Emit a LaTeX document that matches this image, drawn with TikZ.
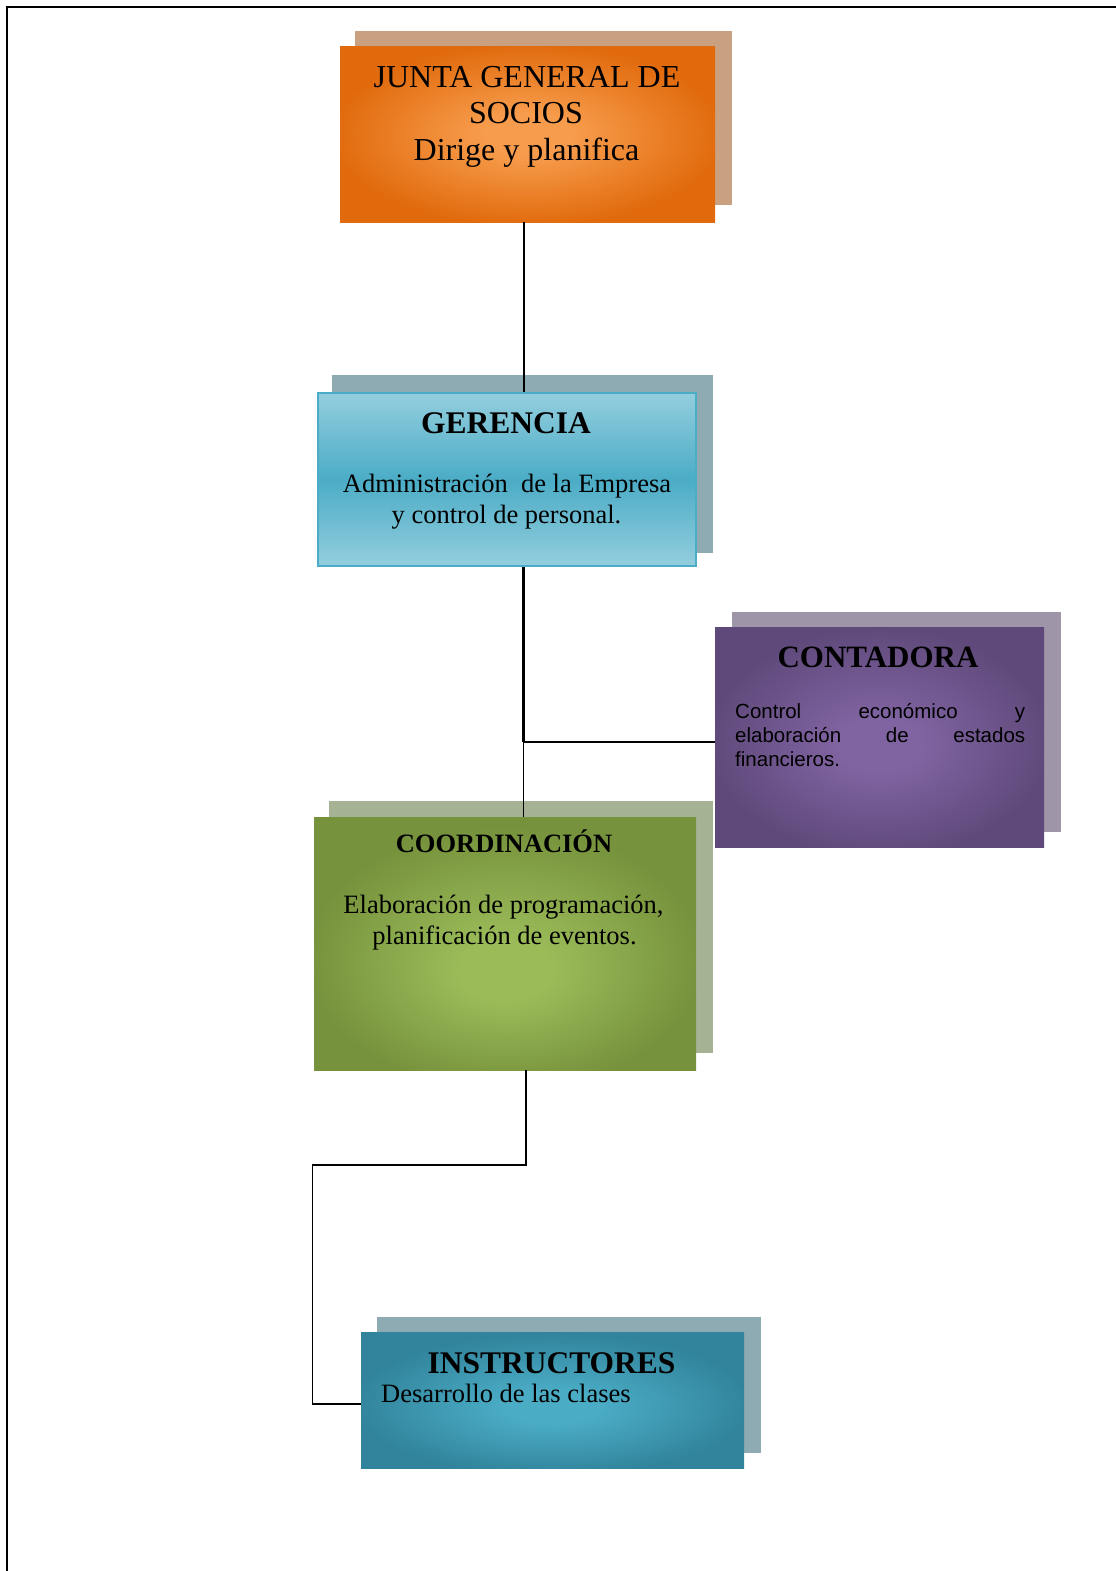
\documentclass[tikz,border=0pt]{standalone}
\usepackage{fontspec}
\setmainfont{Liberation Serif}
\newfontfamily\arialfont{Liberation Sans}

% fill colours (light centre / dark edge) and offset backdrops
\definecolor{juntaL}{RGB}{247,156,76}
\definecolor{juntaD}{RGB}{225,106,12}
\definecolor{juntaS}{RGB}{201,161,129}
\definecolor{gerL}{RGB}{148,206,222}
\definecolor{gerD}{RGB}{75,172,198}
\definecolor{gerS}{RGB}{142,170,178}
\definecolor{contL}{RGB}{128,100,162}
\definecolor{contD}{RGB}{95,73,122}
\definecolor{contS}{RGB}{158,149,168}
\definecolor{coordL}{RGB}{155,187,89}
\definecolor{coordD}{RGB}{118,146,60}
\definecolor{coordS}{RGB}{166,178,148}
\definecolor{instrL}{RGB}{75,172,198}
\definecolor{instrD}{RGB}{49,132,155}
\definecolor{instrS}{RGB}{142,170,178}

% centre glow shadings
\pgfdeclareradialshading{juntaglow}{\pgfpoint{0bp}{0bp}}{color(0bp)=(juntaL); color(6bp)=(juntaL); color(26bp)=(juntaD); color(50bp)=(juntaD)}
\pgfdeclareradialshading{contglow}{\pgfpoint{0bp}{-2bp}}{color(0bp)=(contL); color(6bp)=(contL); color(26bp)=(contD); color(50bp)=(contD)}
\pgfdeclareradialshading{coordglow}{\pgfpoint{0bp}{-6bp}}{color(0bp)=(coordL); color(6bp)=(coordL); color(26bp)=(coordD); color(50bp)=(coordD)}
\pgfdeclareradialshading{instrglow}{\pgfpoint{0bp}{-3bp}}{color(0bp)=(instrL); color(6bp)=(instrL); color(26bp)=(instrD); color(50bp)=(instrD)}

\tikzset{
  backdrop/.style={rectangle, inner sep=0pt, draw=none},
  panel/.style={rectangle, inner sep=0pt, draw=none},
  link/.style={draw=black, line width=1.8pt},
  heavylink/.style={draw=black, line width=2.4pt},
  frameline/.style={draw=black, line width=2.6pt},
  txt/.style={anchor=base, inner sep=0pt},
  txtleft/.style={anchor=base west, inner sep=0pt},
}

\begin{document}
\begin{tikzpicture}[x=1pt, y=-1pt]
\useasboundingbox (0,0) rectangle (1116,1571);

% page frame
\draw[frameline] (7,1571) -- (7,7) -- (1116,7);

% offset backdrops
\node[backdrop, fill=juntaS, minimum width=377pt, minimum height=174pt] (junta-bd) at (543.5,118) {};
\node[backdrop, fill=gerS,   minimum width=381pt, minimum height=178pt] (ger-bd)   at (522.5,464) {};
\node[backdrop, fill=contS,  minimum width=329pt, minimum height=220pt] (cont-bd)  at (896.5,722) {};
\node[backdrop, fill=coordS, minimum width=384pt, minimum height=252pt] (coord-bd) at (521,927) {};
\node[backdrop, fill=instrS, minimum width=384pt, minimum height=136pt] (instr-bd) at (569,1385) {};

% main panels
\node[panel, shading=juntaglow, minimum width=375pt, minimum height=175pt] (junta) at (527.5,134.5) {};
\node[panel, top color=gerL, bottom color=gerL, middle color=gerD, draw=gerD, line width=2pt,
      minimum width=378pt, minimum height=173pt] (ger) at (507,479.5) {};
\node[panel, shading=contglow, minimum width=329pt, minimum height=220pt] (cont) at (879.5,737) {};
\node[panel, shading=coordglow, minimum width=382pt, minimum height=253pt] (coord) at (505,943.5) {};
\node[panel, shading=instrglow, minimum width=383pt, minimum height=136pt] (instr) at (552.5,1400) {};

% connectors
\coordinate (split) at (523.5,742);
\coordinate (bend) at (312.5,1165);
\coordinate (inlet) at (312.5,1404);
\draw[link] ([xshift=-3.5pt]junta.south) -- ([xshift=-3.5pt]junta.south |- ger.north);
\draw[heavylink] (split |- ger.south) -- (split);
\draw[link] (split) -- (split -| cont.west);
\draw[link] (split) -- (split |- coord.north);
\draw[link] ([xshift=21pt]coord.south) -- ([xshift=21pt]coord.south |- bend) -- (bend) -- (inlet) -- (inlet -| instr.west);

% texts
\node[txt, font=\fontsize{32}{36}\selectfont] (junta-t1) at (527,87) {JUNTA GENERAL DE};
\node[txt, font=\fontsize{32}{36}\selectfont] (junta-t2) at (526,123.5) {SOCIOS};
\node[txt, font=\fontsize{32}{36}\selectfont] (junta-t3) at (526.5,160) {Dirige y planifica};

\node[txt, font=\fontsize{31.5}{36}\selectfont\bfseries] (ger-t1) at (506,433) {GERENCIA};
\node[txt, font=\fontsize{26.5}{31}\selectfont] (ger-t2) at (507,492) {Administración\ \ de la Empresa};
\node[txt, font=\fontsize{26.5}{31}\selectfont] (ger-t3) at (506.5,523) {y control de personal.};

\node[txt, font=\fontsize{31}{36}\selectfont\bfseries] (cont-t1) at (878,667) {CONTADORA};
\node[txtleft, font=\fontsize{20.5}{24}\arialfont] (cont-t2) at (735,718) {\makebox[290pt][s]{Control económico y}};
\node[txtleft, font=\fontsize{20.5}{24}\arialfont] (cont-t3) at (735,742) {\makebox[290pt][s]{elaboración de estados}};
\node[txtleft, font=\fontsize{20.5}{24}\arialfont] (cont-t4) at (735,766) {financieros.};

\node[txt, font=\fontsize{26.5}{31}\selectfont\bfseries] (coord-t1) at (504,852) {COORDINACIÓN};
\node[txt, font=\fontsize{26.5}{31}\selectfont] (coord-t2) at (503.5,913) {Elaboración de programación,};
\node[txt, font=\fontsize{26.5}{31}\selectfont] (coord-t3) at (504.5,944) {planificación de eventos.};

\node[txt, font=\fontsize{31.5}{36}\selectfont\bfseries] (instr-t1) at (551.5,1373) {INSTRUCTORES};
\node[txtleft, font=\fontsize{26.5}{31}\selectfont] (instr-t2) at (381,1402) {Desarrollo de las clases};
\end{tikzpicture}
\end{document}
